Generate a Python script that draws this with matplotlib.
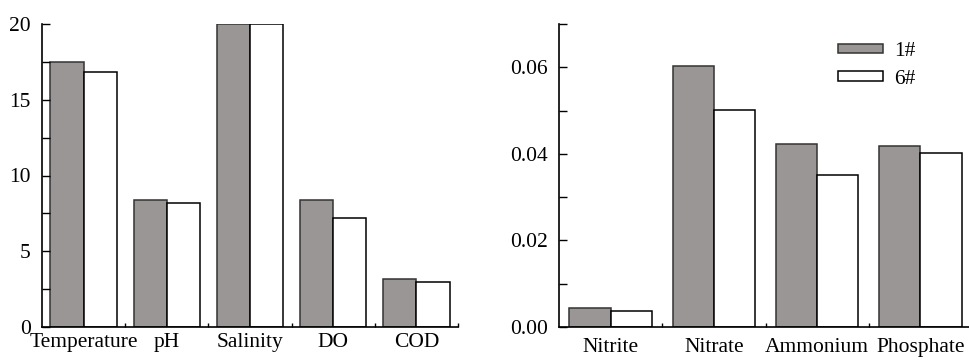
import matplotlib.pyplot as plt
import numpy as np
from matplotlib.ticker import MultipleLocator, FixedLocator, NullFormatter

plt.rcParams["font.family"] = ["Liberation Serif", "DejaVu Serif"]

# water quality parameters
phys_labels = ["Temperature", "pH", "Salinity", "DO", "COD"]
phys_1 = [17.5, 8.35, 20.0, 8.35, 3.2]
phys_6 = [16.8, 8.2, 20.0, 7.2, 3.0]

# nutrients
nutr_labels = ["Nitrite", "Nitrate", "Ammonium", "Phosphate"]
nutr_1 = [0.0044, 0.0604, 0.0423, 0.0419]
nutr_6 = [0.0037, 0.0502, 0.0351, 0.0401]

series_names = ["1#", "6#"]

GRAY = "#9a9695"
W = 0.4
FS = 15.5

fig = plt.figure(figsize=(9.69, 3.6), dpi=100)
ax1 = fig.add_axes([42 / 969, 33 / 360, 416 / 969, 303 / 360])
ax2 = fig.add_axes([559 / 969, 33 / 360, 413 / 969, 303 / 360])


def draw(ax, labels, s1, s6, ymax, major, minor, fmt):
    x = np.arange(len(labels))
    ax.bar(x - W / 2, s1, W, color=GRAY, edgecolor="#333333", linewidth=1.1,
           label=series_names[0])
    ax.bar(x + W / 2, s6, W, color="white", edgecolor="black", linewidth=1.1,
           label=series_names[1])
    ax.set_xlim(-0.5, len(labels) - 0.5)
    ax.set_ylim(0, ymax)
    ax.spines["top"].set_visible(False)
    ax.spines["right"].set_visible(False)
    for s in ("left", "bottom"):
        ax.spines[s].set_linewidth(1.2)
    ax.set_xticks(x)
    ax.set_xticklabels(labels, fontsize=FS)
    ax.xaxis.set_minor_locator(FixedLocator(x + 0.5))
    ax.xaxis.set_minor_formatter(NullFormatter())
    ax.tick_params(axis="x", which="major", length=0, pad=4)
    ax.tick_params(axis="x", which="minor", direction="in", length=3, width=1.0)
    ax.yaxis.set_major_locator(MultipleLocator(major))
    ax.yaxis.set_minor_locator(MultipleLocator(minor))
    ax.yaxis.set_major_formatter(fmt)
    ax.tick_params(axis="y", which="both", direction="in", length=6, width=1.0,
                   labelsize=FS, pad=8)


draw(ax1, phys_labels, phys_1, phys_6, 20, 5, 2.5, "{x:.0f}")
draw(ax2, nutr_labels, nutr_1, nutr_6, 0.07, 0.02, 0.01, "{x:.2f}")
ax2.tick_params(axis="x", which="major", pad=8)

ax2.legend(loc="upper left", bbox_to_anchor=(838 / 969, 1 - 42 / 360),
           bbox_transform=fig.transFigure, frameon=False, fontsize=FS,
           borderpad=0, borderaxespad=0, handlelength=2.1, handleheight=0.3,
           handletextpad=0.5, labelspacing=0.4)

fig.savefig("out.png", dpi=100)
